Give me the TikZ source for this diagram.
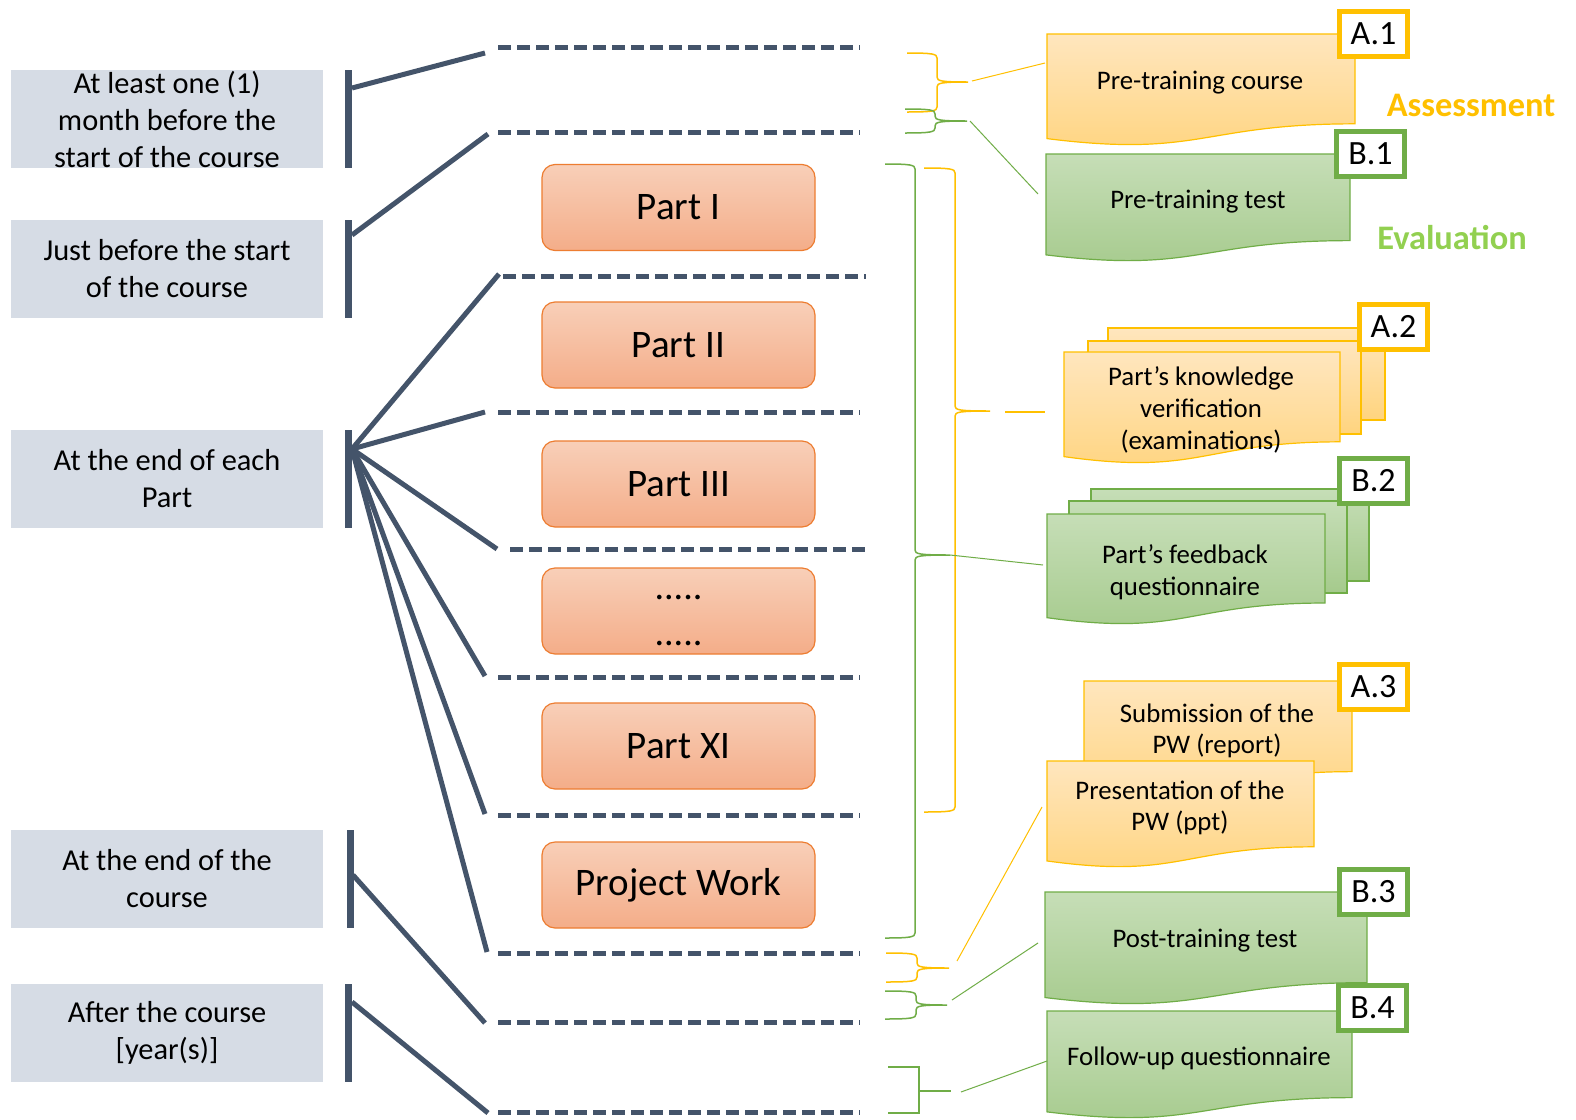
\documentclass[tikz,border=0pt]{standalone}
\usepackage{fontspec}
\setmainfont{Carlito}
\usetikzlibrary{calc}
\definecolor{slate}{HTML}{44546A}
\definecolor{grayfill}{HTML}{D6DCE5}
\definecolor{partTop}{HTML}{F8CFB8}
\definecolor{partBot}{HTML}{F4AD89}
\definecolor{partLine}{HTML}{ED7D31}
\definecolor{goldLine}{HTML}{FFC000}
\definecolor{yelTop}{HTML}{FFE6BE}
\definecolor{yelBot}{HTML}{FFD47E}
\definecolor{grnLine}{HTML}{70AD47}
\definecolor{grnTop}{HTML}{C6DEB7}
\definecolor{grnBot}{HTML}{A5CA8C}
\definecolor{evalGreen}{HTML}{92D050}
\newcommand{\mydoc}[5]{\path[#1] (#2,#3) -- ({#2+#4},#3) -- ({#2+#4},{#3+0.802*#5}) .. controls ({#2+0.5*#4},{#3+0.802*#5}) and ({#2+0.5*#4},{#3+1.107*#5}) .. (#2,{#3+0.934*#5}) -- cycle;}
\newcommand{\curlyb}[7]{\draw[#1] (#2,#5) .. controls ({#3-4},#5) and (#3,{#5+1}) .. (#3,{#5+5}) -- (#3,{#6-5}) .. controls (#3,{#6-1}) and ({#3+4},#6) .. (#4,#6) .. controls ({#3+4},#6) and (#3,{#6+1}) .. (#3,{#6+5}) -- (#3,{#7-5}) .. controls (#3,{#7-1}) and ({#3-4},#7) .. (#2,#7);}
\tikzset{
 timebox/.style={fill=grayfill, minimum width=156pt, minimum height=49pt, inner sep=0pt, align=center, font=\fontsize{15.2}{18.5}\selectfont},
 barbox/.style={fill=slate, minimum width=3.5pt, minimum height=49pt, inner sep=0pt},
 slateline/.style={draw=slate, line width=2.5pt},
 dashline/.style={draw=slate, line width=2.5pt, dash pattern=on 6.5pt off 3pt},
 partbox/.style={rounded corners=6.5pt, top color=partTop, bottom color=partBot, draw=partLine, line width=0.6pt, minimum width=136.5pt, minimum height=43pt, inner sep=0pt, font=\fontsize{19.5}{23}\selectfont},
 yeldoc/.style={top color=yelTop, bottom color=yelBot, draw=goldLine, line width=0.6pt},
 grndoc/.style={top color=grnTop, bottom color=grnBot, draw=grnLine, line width=0.6pt},
 doctext/.style={align=center, font=\fontsize{13.4}{15.8}\selectfont},
 yellab/.style={draw=goldLine, line width=2.5pt, fill=white, minimum width=34pt, minimum height=22.5pt, inner sep=0pt, font=\fontsize{17}{20}\selectfont},
 grnlab/.style={draw=grnLine, line width=2.5pt, fill=white, minimum width=34pt, minimum height=22.5pt, inner sep=0pt, font=\fontsize{17}{20}\selectfont},
 yelbrace/.style={draw=goldLine, line width=0.75pt},
 grnbrace/.style={draw=grnLine, line width=0.75pt},
 yelconn/.style={draw=goldLine, line width=0.5pt},
 grnconn/.style={draw=grnLine, line width=0.5pt},
}
\begin{document}
\begin{tikzpicture}[x=0.5pt,y=-0.5pt]
\useasboundingbox[fill=white] (0,0) rectangle (1576,1120);

% ---------- time boxes ----------
\node[timebox] (t1) at (167,119) {At least one (1)\\month before the\\start of the course};
\node[timebox] (t2) at (167,268.5) {Just before the start\\of the course};
\node[timebox] (t3) at (167,478.5) {At the end of each\\Part};
\node[timebox] (t4) at (167,879) {At the end of the\\course};
\node[timebox] (t5) at (167,1033) {After the course\\{[}year(s)]};

\node[barbox] (b1) at (348.5,119) {};
\node[barbox] (b2) at (348.5,268.5) {};
\node[barbox] (b3) at (348.5,478.5) {};
\node[barbox] (b4) at (350,879) {};
\node[barbox] (b5) at (348.5,1033) {};

% ---------- dashed separators ----------
\foreach \n/\xa/\xb/\yy in {1/498/860/47, 2/498/860/132, 3/503/866/276, 4/498/860/412, 5/510/871/549, 6/498/860/677, 7/498/860/815, 8/498/860/953, 9/498/860/1022, 10/498/860/1112}{
  \coordinate (h\n a) at (\xa,\yy);
  \coordinate (h\n b) at (\xb,\yy);
  \draw[dashline] (h\n a) -- (h\n b);
}

% ---------- slate connectors ----------
\coordinate (s1) at (352,88);   \coordinate (e1) at (485,53);
\coordinate (s2) at (352,235);  \coordinate (e2) at (488,134);
\coordinate (s3) at (352,449);
\coordinate (e3a) at (499,274);
\coordinate (e3b) at (485,412);
\coordinate (e3c) at (497,549);
\coordinate (e3d) at (485,676);
\coordinate (e3e) at (485,814);
\coordinate (e3f) at (487,952);
\coordinate (s4) at (353,875);  \coordinate (e4) at (485,1023);
\coordinate (s5) at (352,1002); \coordinate (e5) at (488,1113);
\draw[slateline] (s1) -- (e1);
\draw[slateline] (s2) -- (e2);
\foreach \e in {e3a,e3b,e3c,e3d,e3e,e3f}{\draw[slateline] (s3) -- (\e);}
\draw[slateline] (s4) -- (e4);
\draw[slateline] (s5) -- (e5);

% ---------- parts ----------
\node[partbox] (p1) at (678.5,207.5) {Part I};
\node[partbox] (p2) at (678.5,345) {Part II};
\node[partbox] (p3) at (678.5,484) {Part III};
\node[partbox] (p4) at (678.5,611) {};
\node[align=center, font=\fontsize{19}{23}\selectfont] (p4t) at (678.5,620) {.....\\.....};
\node[partbox] (p5) at (678.5,746) {Part XI};
\node[partbox] (p6) at (678.5,885) {Project Work};

% ---------- braces ----------
\curlyb{yelbrace}{907}{937}{968}{53}{82}{112}
\curlyb{grnbrace}{905}{935}{967}{109}{121}{133}
\curlyb{grnbrace}{885}{915}{950}{164}{555}{938}
\curlyb{yelbrace}{924}{955}{990}{168}{411}{812}
\curlyb{yelbrace}{886}{917}{949}{953}{968}{982}
\curlyb{grnbrace}{885}{916}{947}{991}{1005}{1019}
\draw[grnbrace] (888,1067) -- (919,1067) -- (919,1113) -- (888,1113);
\coordinate (sq7) at (919,1091); \coordinate (sq7t) at (951,1091);
\draw[draw=grnLine, line width=1.2pt] (sq7) -- (sq7t);

% ---------- documents ----------
\mydoc{yeldoc}{1047}{34}{308}{112}
\mydoc{grndoc}{1046}{154}{304}{108}
\path[yeldoc] (1108,328) rectangle (1385,420);
\path[yeldoc] (1088,341) rectangle (1361,434);
\mydoc{yeldoc}{1064}{352}{276}{112}
\path[grndoc] (1091,489) rectangle (1369,581);
\path[grndoc] (1069,501) rectangle (1347,593);
\mydoc{grndoc}{1047}{514}{278}{111}
\mydoc{yeldoc}{1084}{681}{268}{113}
\mydoc{yeldoc}{1047}{761}{267}{107}
\mydoc{grndoc}{1045}{892}{322}{113}
\mydoc{grndoc}{1047}{1011}{305}{108}

\node[doctext] (dA1) at (1200,83) {Pre-training course};
\node[doctext] (dB1) at (1198,202) {Pre-training test};
\node[doctext] (dA2) at (1201,410) {Part’s knowledge\\verification\\(examinations)};
\node[doctext] (dB2) at (1185,572) {Part’s feedback\\questionnaire};
\node[doctext] (dA3a) at (1217,731) {Submission of the\\PW (report)};
\node[doctext] (dA3b) at (1180,808) {Presentation of the\\PW (ppt)};
\node[doctext] (dB3) at (1205,941) {Post-training test};
\node[doctext] (dB4) at (1199,1058) {Follow-up questionnaire};

% ---------- labels ----------
\node[yellab] (lA1) at (1373.5,34) {A.1};
\node[grnlab] (lB1) at (1370.5,154) {B.1};
\node[yellab] (lA2) at (1393.5,326.5) {A.2};
\node[grnlab] (lB2) at (1373.5,480.5) {B.2};
\node[yellab] (lA3) at (1373.5,686.5) {A.3};
\node[grnlab] (lB3) at (1373.5,891.5) {B.3};
\node[grnlab] (lB4) at (1372.5,1007.5) {B.4};

\node[font=\fontsize{17.2}{20}\selectfont\bfseries, text=goldLine] (assess) at (1471,105) {Assessment};
\node[font=\fontsize{17.2}{20}\selectfont\bfseries, text=evalGreen] (evalu) at (1452,238) {Evaluation};

% ---------- brace connectors ----------
\coordinate (cA1s) at (972,81);   \coordinate (cA1e) at (1045,63);
\coordinate (cB1s) at (970,121);  \coordinate (cB1e) at (1038,194);
\coordinate (cB2s) at (950,555);  \coordinate (cB2e) at (1043,565);
\coordinate (cA2s) at (1005,412); \coordinate (cA2e) at (1045,412);
\coordinate (cA3s) at (957,961);  \coordinate (cA3e) at (1042,807);
\coordinate (cB3s) at (952,1000); \coordinate (cB3e) at (1038,943);
\coordinate (cB4s) at (961,1092); \coordinate (cB4e) at (1047,1061);
\draw[yelconn] (cA1s) -- (cA1e);
\draw[grnconn] (cB1s) -- (cB1e);
\draw[grnconn] (cB2s) -- (cB2e);
\draw[draw=goldLine, line width=1.1pt] (cA2s) -- (cA2e);
\draw[yelconn] (cA3s) -- (cA3e);
\draw[grnconn] (cB3s) -- (cB3e);
\draw[grnconn] (cB4s) -- (cB4e);
\end{tikzpicture}
\end{document}
